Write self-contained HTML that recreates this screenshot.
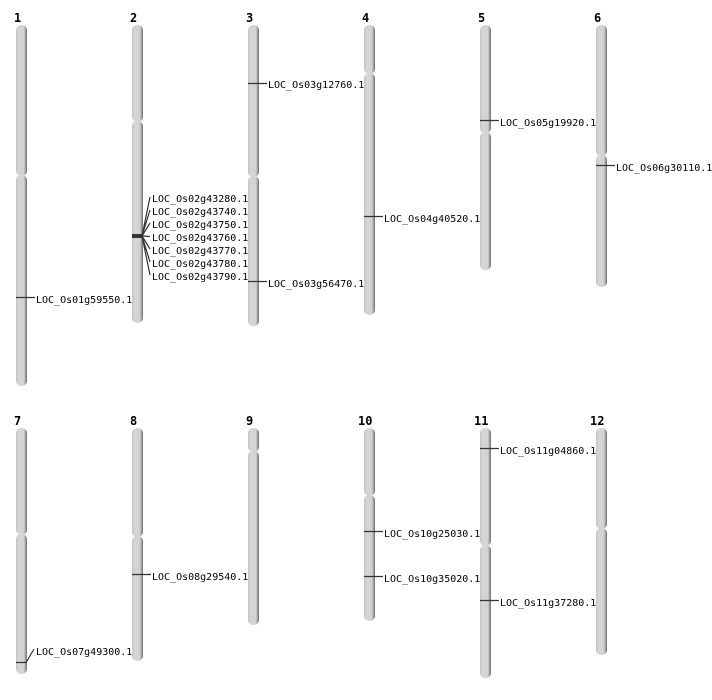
<!DOCTYPE html>
<html><head><meta charset="utf-8"><style>html,body{margin:0;padding:0;background:#fff}svg{display:block}</style></head><body>
<svg width="712" height="700" xmlns="http://www.w3.org/2000/svg" font-family="'DejaVu Sans Mono','Liberation Mono',monospace">
<defs>
<linearGradient id="g" x1="0" x2="1" y1="0" y2="0">
<stop offset="0" stop-color="#c4c4c4"/><stop offset="0.25" stop-color="#d6d6d6"/><stop offset="0.7" stop-color="#d2d2d2"/><stop offset="0.85" stop-color="#a8a8a8"/><stop offset="1" stop-color="#666"/>
</linearGradient>
</defs>
<g fill="url(#g)">
<rect x="16" y="25" width="11" height="151" rx="5"/><rect x="16" y="175" width="11" height="211" rx="5"/>
<rect x="132" y="25" width="11" height="97" rx="5"/><rect x="132" y="121" width="11" height="202" rx="5"/>
<rect x="248" y="25" width="11" height="152" rx="5"/><rect x="248" y="176" width="11" height="150" rx="5"/>
<rect x="364" y="25" width="11" height="49" rx="5"/><rect x="364" y="73" width="11" height="242" rx="5"/>
<rect x="480" y="25" width="11" height="108" rx="5"/><rect x="480" y="132" width="11" height="138" rx="5"/>
<rect x="596" y="25" width="11" height="131" rx="5"/><rect x="596" y="155" width="11" height="132" rx="5"/>
<rect x="16" y="428" width="11" height="107" rx="5"/><rect x="16" y="534" width="11" height="140" rx="5"/>
<rect x="132" y="428" width="11" height="109" rx="5"/><rect x="132" y="536" width="11" height="125" rx="5"/>
<rect x="248" y="428" width="11" height="24" rx="5"/><rect x="248" y="451" width="11" height="174" rx="5"/>
<rect x="364" y="428" width="11" height="68" rx="5"/><rect x="364" y="495" width="11" height="126" rx="5"/>
<rect x="480" y="428" width="11" height="118" rx="5"/><rect x="480" y="545" width="11" height="133" rx="5"/>
<rect x="596" y="428" width="11" height="101" rx="5"/><rect x="596" y="528" width="11" height="127" rx="5"/>
</g>
<g font-size="12" font-weight="bold" fill="#000">
<text x="14" y="22">1</text><text x="130" y="22">2</text><text x="246" y="22">3</text><text x="362" y="22">4</text><text x="478" y="22">5</text><text x="594" y="22">6</text>
<text x="14" y="425">7</text><text x="130" y="425">8</text><text x="246" y="425">9</text><text x="358" y="425">10</text><text x="474" y="425">11</text><text x="590" y="425">12</text>
</g>
<g stroke="#333" stroke-width="1.2" fill="none">
<line x1="16" y1="297.5" x2="35" y2="297.5"/>
<line x1="132" y1="235" x2="143" y2="235" stroke-width="1.5" stroke="#000"/>
<line x1="132" y1="237" x2="143" y2="237" stroke-width="1.5" stroke="#000"/>
<path d="M142 236 L150 197 M142 236 L150 210 M142 236 L150 223 M142 236 L150 236.5 M142 236 L150 249 M142 236 L150 262 M142 236 L150 275"/>
<line x1="248" y1="83.5" x2="267" y2="83.5"/>
<line x1="248" y1="281.5" x2="267" y2="281.5"/>
<line x1="364" y1="216.5" x2="383" y2="216.5"/>
<line x1="480" y1="120.5" x2="499" y2="120.5"/>
<line x1="596" y1="165.5" x2="615" y2="165.5"/>
<path d="M16 662.5 L26 662.5 L34 649"/>
<line x1="132" y1="574.5" x2="151" y2="574.5"/>
<line x1="364" y1="531.5" x2="383" y2="531.5"/>
<line x1="364" y1="576.5" x2="383" y2="576.5"/>
<line x1="480" y1="448.5" x2="499" y2="448.5"/>
<line x1="480" y1="600.5" x2="499" y2="600.5"/>
</g>
<g font-size="10" fill="#000" dominant-baseline="middle">
<text x="36" y="300">LOC_Os01g59550.1</text>
<text x="152" y="199">LOC_Os02g43280.1</text>
<text x="152" y="212">LOC_Os02g43740.1</text>
<text x="152" y="225">LOC_Os02g43750.1</text>
<text x="152" y="238">LOC_Os02g43760.1</text>
<text x="152" y="251">LOC_Os02g43770.1</text>
<text x="152" y="264">LOC_Os02g43780.1</text>
<text x="152" y="277">LOC_Os02g43790.1</text>
<text x="268" y="85">LOC_Os03g12760.1</text>
<text x="268" y="284">LOC_Os03g56470.1</text>
<text x="384" y="219">LOC_Os04g40520.1</text>
<text x="500" y="123">LOC_Os05g19920.1</text>
<text x="616" y="168">LOC_Os06g30110.1</text>
<text x="36" y="652">LOC_Os07g49300.1</text>
<text x="152" y="577">LOC_Os08g29540.1</text>
<text x="384" y="534">LOC_Os10g25030.1</text>
<text x="384" y="579">LOC_Os10g35020.1</text>
<text x="500" y="451">LOC_Os11g04860.1</text>
<text x="500" y="603">LOC_Os11g37280.1</text>
</g>
</svg>
</body></html>
